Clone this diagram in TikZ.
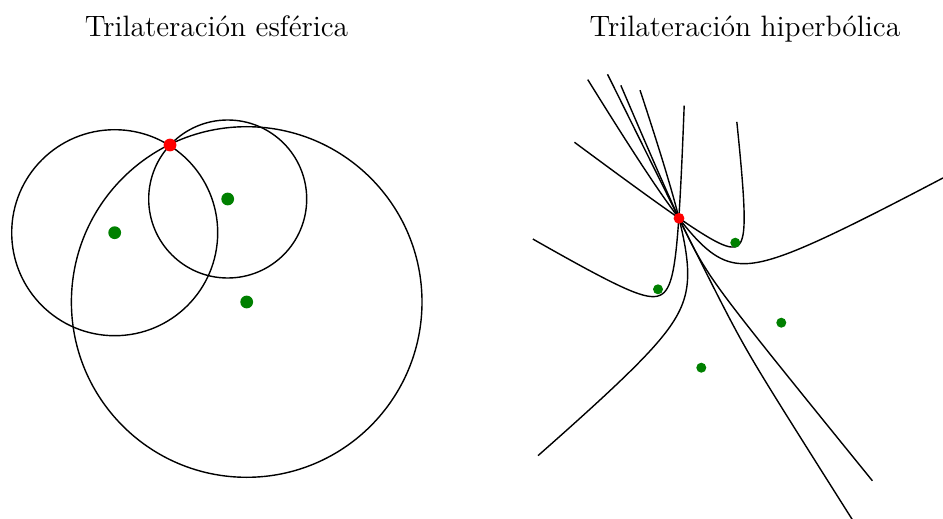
\documentclass[tikz,border=0pt]{standalone}
\usepackage{fontspec}
\definecolor{dotgreen}{RGB}{0,128,0}
\tikzset{
  curveline/.style={line width=0.7pt, black},
  gdotL/.style={circle, fill=dotgreen, inner sep=0pt, minimum size=6.4pt},
  rdotL/.style={circle, fill=red, inner sep=0pt, minimum size=6.4pt},
  gdotR/.style={circle, fill=dotgreen, inner sep=0pt, minimum size=5pt},
  rdotR/.style={circle, fill=red, inner sep=0pt, minimum size=5.4pt},
  titlestyle/.style={font=\fontsize{14.75}{17}\selectfont, anchor=base, inner sep=0pt}
}
\def\RPx{679}
\def\RPy{218.3}
% #1,#2 near focus; #3,#4 far focus; #5,#6 first end; #7,#8 second end
\newcommand\HypBranch[8]{%
  \pgfmathsetmacro\hbMx{(#1+#3)/2}%
  \pgfmathsetmacro\hbMy{(#2+#4)/2}%
  \pgfmathsetmacro\hbC{veclen(#1-#3,#2-#4)/2}%
  \pgfmathsetmacro\hbUx{(#1-#3)/(2*\hbC)}%
  \pgfmathsetmacro\hbUy{(#2-#4)/(2*\hbC)}%
  \pgfmathsetmacro\hbVx{-1*(\hbUy)}%
  \pgfmathsetmacro\hbVy{\hbUx}%
  \pgfmathsetmacro\hbA{(veclen(\RPx-#3,\RPy-#4)-veclen(\RPx-#1,\RPy-#2))/2}%
  \pgfmathsetmacro\hbB{sqrt(\hbC*\hbC-\hbA*\hbA)}%
  \pgfmathsetmacro\hbSa{(#5-\hbMx)*(\hbVx)+(#6-\hbMy)*(\hbVy)}%
  \pgfmathsetmacro\hbSb{(#7-\hbMx)*(\hbVx)+(#8-\hbMy)*(\hbVy)}%
  \draw[curveline] plot[domain=\hbSa:\hbSb, samples=200, smooth, variable=\t]
    ({\hbMx+(\hbA)*sqrt(1+((\t)/\hbB)*((\t)/\hbB))*(\hbUx)+(\t)*(\hbVx)},
     {\hbMy+(\hbA)*sqrt(1+((\t)/\hbB)*((\t)/\hbB))*(\hbUy)+(\t)*(\hbVy)});
}
\begin{document}
\begin{tikzpicture}[x=0.5pt, y=-0.5pt]
\useasboundingbox (0,0) rectangle (943,519);

% titles
\node[titlestyle] (t1) at (216.5,36.5) {Trilateración esférica};
\node[titlestyle] (t2) at (745,36.5) {Trilateración hiperbólica};

% spherical trilateration
\draw[curveline] (114.7,232.7) circle[radius=103];
\draw[curveline] (227.7,199) circle[radius=79];
\draw[curveline] (246.7,302) circle[radius=175.3];
\node[gdotL] (g1) at (114.7,232.7) {};
\node[gdotL] (g2) at (227.7,199) {};
\node[gdotL] (g3) at (246.7,302) {};
\node[rdotL] (pL) at (170,145) {};

% hyperbolic trilateration
% foci: A=(735.3,242.7) B=(658,289.3) C=(781.3,322.7) D=(701.3,367.7)
\HypBranch{735.3}{242.7}{658}{289.3}{625}{83.3}{867.3}{483.3}   % AB
\HypBranch{735.3}{242.7}{781.3}{322.7}{731.3}{112.3}{569.3}{133.3} % AC
\HypBranch{735.3}{242.7}{701.3}{367.7}{943}{178.3}{589.3}{74}   % AD
\HypBranch{658}{289.3}{781.3}{322.7}{639.3}{90}{538.3}{455.7}   % BC
\HypBranch{658}{289.3}{701.3}{367.7}{679.3}{97.3}{537.3}{246.7} % BD
\HypBranch{781.3}{322.7}{701.3}{367.7}{607.7}{74.3}{854}{518.3} % CD

\node[gdotR] (fA) at (735.3,242.7) {};
\node[gdotR] (fB) at (658,289.3) {};
\node[gdotR] (fC) at (781.3,322.7) {};
\node[gdotR] (fD) at (701.3,367.7) {};
\node[rdotR] (pR) at (\RPx,\RPy) {};
\end{tikzpicture}
\end{document}
